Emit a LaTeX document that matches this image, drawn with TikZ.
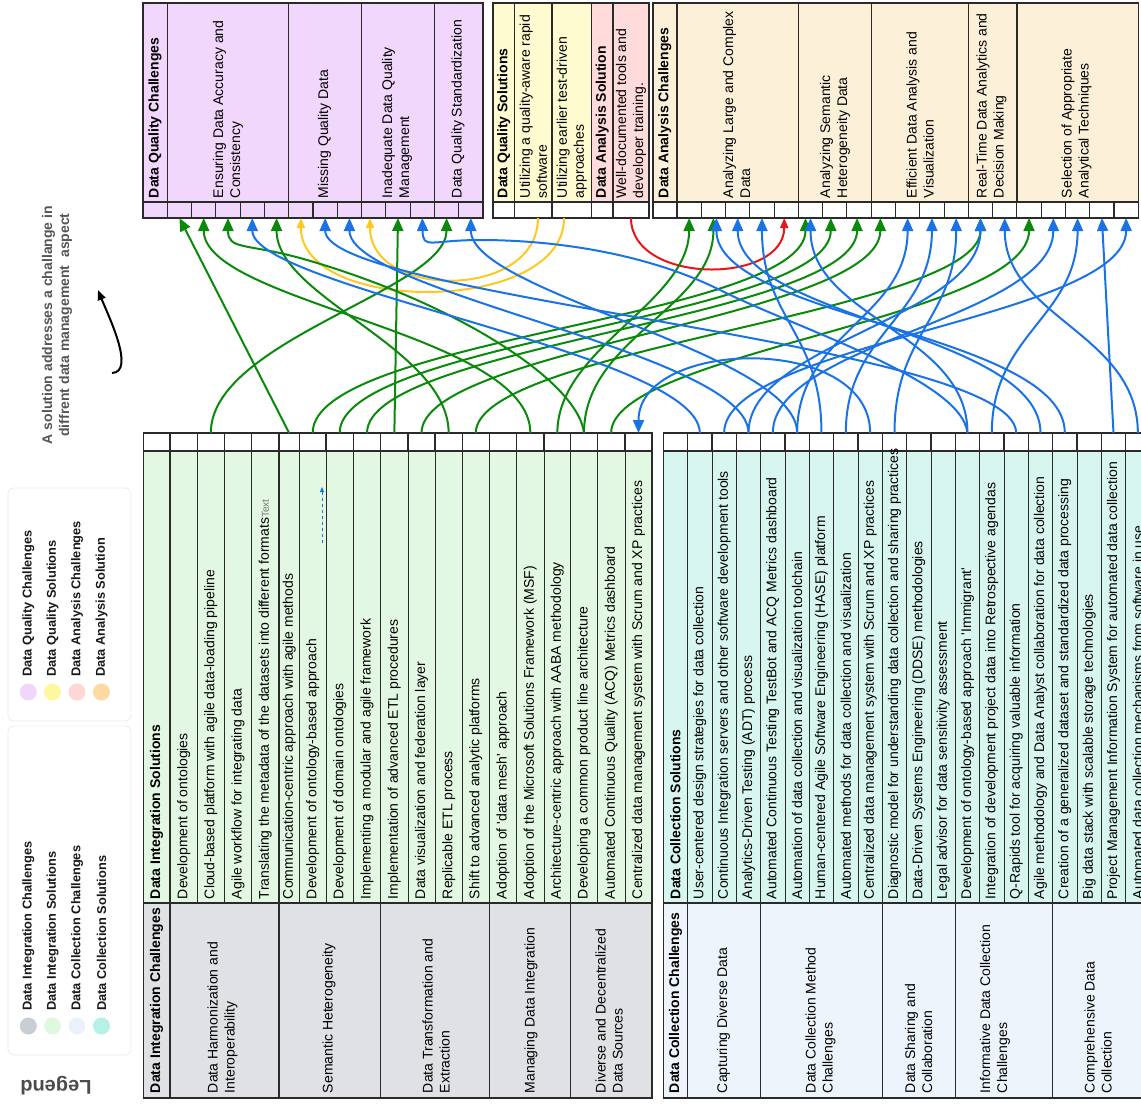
\documentclass[tikz,border=0pt]{standalone}
\usepackage{fontspec}
\setmainfont{Liberation Sans}
\usetikzlibrary{arrows.meta}
\definecolor{cDQ}{HTML}{F1D7FB}
\definecolor{cQS}{HTML}{FDFBCF}
\definecolor{cAS}{HTML}{FFDBDB}
\definecolor{cDA}{HTML}{FDF0D8}
\definecolor{cIS}{HTML}{E3F8E3}
\definecolor{cIC}{HTML}{DFE1E5}
\definecolor{cCC}{HTML}{EEF4FC}
\definecolor{cCS}{HTML}{D8F6F0}
\definecolor{cGreen}{HTML}{0A8A0A}
\definecolor{cBlue}{HTML}{1A73E6}
\definecolor{cYellow}{HTML}{FFC820}
\definecolor{cRed}{HTML}{E8151A}
\definecolor{cBorder}{HTML}{2A2A2A}
\definecolor{cNote}{HTML}{555555}
\definecolor{lgA}{HTML}{C9CDD4}
\definecolor{lgB}{HTML}{DFF8DF}
\definecolor{lgC}{HTML}{EAF1FC}
\definecolor{lgD}{HTML}{B5F1E6}
\definecolor{lgE}{HTML}{F1D6FC}
\definecolor{lgF}{HTML}{FFF6A0}
\definecolor{lgG}{HTML}{FFD7D7}
\definecolor{lgH}{HTML}{FFD9A3}
\newcommand\txtn{\fontsize{14}{17}\selectfont}
\newcommand\txtb{\fontsize{14}{17}\selectfont\bfseries}
\newcommand\txtl{\fontsize{12.8}{15}\selectfont\bfseries}
\begin{document}
\begin{tikzpicture}[x=1pt,y=-1pt,
  cellbox/.style={draw=cBorder, line width=1.1pt, inner sep=0pt, outer sep=0pt, minimum height=16pt},
  bcell/.style={cellbox, minimum height=18pt, fill=white},
  vt/.style={rotate=90, anchor=west, inner sep=0pt, outer sep=0pt, align=left, font=\txtn, text=black},
  vth/.style={vt, font=\txtb},
  lg/.style={rotate=90, anchor=west, inner sep=0pt, font=\txtl, text=black!90},
  conn/.style={line width=2pt, -{Triangle[length=13pt,width=11pt]}},
  sconn/.style={line width=2pt, -{Triangle[length=10pt,width=8pt]}},
  gc/.style={conn, draw=cGreen},
  bc/.style={conn, draw=cBlue},
  yc/.style={sconn, draw=cYellow},
  rc/.style={sconn, draw=cRed},
  thinline/.style={draw=cBorder, line width=0.8pt},
  grpsep/.style={draw=cBorder, line width=1.4pt},
  tblframe/.style={draw=cBorder, line width=1.6pt},
]
\useasboundingbox (0,0) rectangle (1141,1104);
\clip (0,0) rectangle (1141,1104);

% ================= TOP: Data Quality Challenges =================
\fill[cDQ] (143,3) rectangle (483,218);
\foreach \x in {167.3,288.7,361.6,434.4} \draw[grpsep] (\x,3) -- (\x,202);
\foreach \i in {0,...,13} \node[cellbox, fill=cDQ, minimum width=24.286pt] (dq\i) at ({155.14+\i*24.286},210) {};
\draw[tblframe] (143,3) rectangle (483,218);
\node[vth] (tdq0) at (155.1,198) {Data Quality Challenges};
\node[vt] (tdq1) at (228,198) {Ensuring Data Accuracy and\\Consistency};
\node[vt] (tdq2) at (324.5,198) {Missing Quality Data};
\node[vt] (tdq3) at (397,198) {Inadequate Data Quality\\Management};
\node[vt] (tdq4) at (458,198) {Data Quality Standardization};

% ================= TOP: Quality Solutions / Analysis Solution =================
\fill[cQS] (493,3) rectangle (591.3,202);
\fill[cAS] (591.3,3) rectangle (649,202);
\foreach \x in {514.7,552,591.3,613} \draw[grpsep] (\x,3) -- (\x,202);
\node[cellbox, fill=white, minimum width=21.7pt] (qs0) at (503.85,210) {};
\node[cellbox, fill=white, minimum width=37.3pt] (qs1) at (533.35,210) {};
\node[cellbox, fill=white, minimum width=39.3pt] (qs2) at (571.65,210) {};
\node[cellbox, fill=white, minimum width=21.7pt] (qs3) at (602.15,210) {};
\node[cellbox, fill=white, minimum width=36pt] (qs4) at (631,210) {};
\draw[tblframe] (493,3) rectangle (649,218);
\node[vth] (tqs0) at (503.85,198) {Data Quality Solutions};
\node[vt] (tqs1) at (533.35,198) {Utilizing a quality-aware rapid\\software};
\node[vt] (tqs2) at (571.65,198) {Utilizing earlier test-driven\\approaches};
\node[vth] (tqs3) at (602.15,198) {Data Analysis Solution};
\node[vt] (tqs4) at (631,198) {Well-documented tools and\\developer training.};

% ================= TOP: Data Analysis Challenges =================
\fill[cDA] (652.7,3) rectangle (1138.3,202);
\foreach \x in {677,798.4,871.2,968.3,1016.9} \draw[grpsep] (\x,3) -- (\x,202);
\foreach \i in {0,...,19} \node[cellbox, fill=white, minimum width=24.28pt] (da\i) at ({664.84+\i*24.28},210) {};
\draw[tblframe] (652.7,3) rectangle (1138.3,218);
\node[vth] (tda0) at (664.8,198) {Data Analysis Challenges};
\node[vt] (tda1) at (736.5,198) {Analyzing Large and Complex\\Data};
\node[vt] (tda2) at (835,198) {Analyzing Semantic\\Heterogeneity Data};
\node[vt] (tda3) at (920,198) {Efficient Data Analysis and\\Visualization};
\node[vt] (tda4) at (991.5,198) {Real-Time Data Analytics and\\Decision Making};
\node[vt] (tda5) at (1076.5,198) {Selection of Appropriate\\Analytical Techniques};

% ================= BOTTOM LEFT: Data Integration =================
\fill[cIS] (143.3,451) rectangle (652,903);
\fill[cIC] (143.3,903) rectangle (652,1098);
\foreach \x in {197.3,224.3,251.7,299.3,326,353.3,408,435,462.3,516.7,544,597.3,625} \draw[thinline] (\x,451) -- (\x,903);
\foreach \x in {170,279,380.7,489.3,570.7} \draw[grpsep] (\x,451) -- (\x,1098);
\draw[grpsep] (143.3,903) -- (652,903);
\foreach \i/\c/\w in {0/156.65/26.7, 1/183.65/27.3, 2/210.8/27, 3/238/27.4, 4/265.35/27.3, 5/289.15/20.3, 6/312.65/26.7, 7/339.65/27.3, 8/367/27.4, 9/394.35/27.3, 10/421.5/27, 11/448.65/27.3, 12/475.8/27, 13/503/27.4, 14/530.35/27.3, 15/557.35/26.7, 16/584/26.6, 17/611.15/27.7, 18/638.5/27}
  \node[bcell, minimum width=\w pt] (li\i) at (\c,442) {};
\draw[tblframe] (143.3,433) rectangle (652,1098);
\path (li0.center) ++(0,457) node[vth] (tli0) {Data Integration Solutions};
\foreach \i/\t in {1/{Development of ontologies},
  2/{Cloud-based platform with agile data-loading pipeline},
  3/{Agile workflow for integrating data},
  4/{Translating the metadata of the datasets into different formats{\fontsize{10}{10}\selectfont\color{black!55}Text}},
  5/{Communication-centric approach with agile methods},
  6/{Development of ontology-based approach},
  7/{Development of domain ontologies},
  8/{Implementing a modular and agile framework},
  9/{Implementation of advanced ETL procedures},
  10/{Data visualization and federation layer},
  11/{Replicable ETL process},
  12/{Shift to advanced analytic platforms},
  13/{Adoption of \textquotesingle data mesh\textquotesingle\ approach},
  14/{Adoption of the Microsoft Solutions Framework (MSF)},
  15/{Architecture-centric approach with AABA methodology},
  16/{Developing a common product line architecture},
  17/{Automated Continuous Quality (ACQ) Metrics dashboard},
  18/{Centralized data management system with Scrum and XP practices}}
  \path (li\i.center) ++(0,457) node[vt] (tli\i) {\t};
\node[vth] (cli0) at (156.65,1093) {Data Integration Challenges};
\node[vt] (cli1) at (222.5,1093) {Data Harmonization and\\Interoperability};
\node[vt] (cli2) at (329,1093) {Semantic Heterogeneity};
\node[vt] (cli3) at (436,1093) {Data Transformation and\\Extraction};
\node[vt] (cli4) at (531,1093) {Managing Data Integration};
\node[vt] (cli5) at (609,1093) {Diverse and Decentralized\\Data Sources};
% small dashed arrow artefact
\coordinate (dashA) at (322,543);
\coordinate (dashB) at (322,487);
\draw[cBlue, line width=0.8pt, dashed, -{Triangle[length=5pt,width=4pt]}] (dashA) -- (dashB);

% ================= BOTTOM RIGHT: Data Collection =================
\fill[cCS] (663.3,451) rectangle (1160,903);
\fill[cCC] (663.3,903) rectangle (1160,1098);
\foreach \k in {2,3,5,6,7,8,10,11,13,14,15,17,18,19} \draw[thinline] ({663.3+\k*24.335},451) -- ({663.3+\k*24.335},903);
\foreach \k in {1,4,9,12,16} \draw[grpsep] ({663.3+\k*24.335},451) -- ({663.3+\k*24.335},1098);
\draw[grpsep] (663.3,903) -- (1160,903);
\foreach \i in {0,...,19} \node[bcell, minimum width=24.335pt] (dc\i) at ({675.47+\i*24.335},442) {};
\draw[tblframe] (663.3,433) rectangle (1160,1098);
\path (dc0.center) ++(0,457) node[vth] (tdc0) {Data Collection Solutions};
\foreach \i/\t in {1/{User-centered design strategies for data collection},
  2/{Continuous Integration servers and other software development tools},
  3/{Analytics-Driven Testing (ADT) process},
  4/{Automated Continuous Testing TestBot and ACQ Metrics dashboard},
  5/{Automation of data collection and visualization toolchain},
  6/{Human-centered Agile Software Engineering (HASE) platform},
  7/{Automated methods for data collection and visualization},
  8/{Centralized data management system with Scrum and XP practices},
  9/{Diagnostic model for understanding data collection and sharing practices},
  10/{Data-Driven Systems Engineering (DDSE) methodologies},
  11/{Legal advisor for data sensitivity assessment},
  12/{Development of ontology-based approach \textquotesingle Immigrant\textquotesingle},
  13/{Integration of development project data into Retrospective agendas},
  14/{Q-Rapids tool for acquiring valuable information},
  15/{Agile methodology and Data Analyst collaboration for data collection},
  16/{Creation of a generalized dataset and standardized data processing},
  17/{Big data stack with scalable storage technologies},
  18/{Project Management Information System for automated data collection},
  19/{Automated data collection mechanisms from software in use}}
  \path (dc\i.center) ++(0,457) node[vt] (tdc\i) {\t};
\node[vth] (cdc0) at (675.5,1093) {Data Collection Challenges};
\node[vt] (cdc1) at (723.5,1093) {Capturing Diverse Data};
\node[vt] (cdc2) at (820.5,1093) {Data Collection Method\\Challenges};
\node[vt] (cdc3) at (918.5,1093) {Data Sharing and\\Collaboration};
\node[vt] (cdc4) at (995,1093) {Informative Data Collection\\Challenges};
\node[vt] (cdc5) at (1098,1093) {Comprehensive Data\\Collection};

% ================= CONNECTORS =================
% yellow / red (solutions to challenges in the top tables)
\draw[yc] ([xshift=4.6pt]qs1.south) .. controls +(0,82) and +(0,82) .. ([xshift=-3.7pt]dq9.south);
\draw[yc] ([xshift=-7.6pt]qs2.south) .. controls +(0,97) and +(0,97) .. (dq6.south);
\draw[rc] (qs4.south) .. controls +(0,67) and +(0,67) .. ([xshift=-2pt]da5.south);

% green (data integration solutions)
\draw[gc] (li2.north) .. controls +(0,-93) and +(0,72) .. (dq12.south);
\draw[gc] (li5.north) -- (dq1.south);
\draw[gc] (li9.north) -- (dq10.south);
\draw[gc] (li11.north) .. controls +(0,-85) and +(0,80) .. (dq5.south);
\draw[gc] (li14.north) .. controls +(0,-100) and +(0,85) .. (dq2.south);
\draw[gc] (li16.north) .. controls (578,380) and (450,300) .. (300,258) .. controls (245,243) and (228,250) .. (dq3.south);
\draw[gc] (li15.north) .. controls +(0,-85) and +(0,85) .. (da1.south);
\draw[gc] (li16.north) .. controls +(0,-95) and +(0,90) .. (da2.south);
\draw[gc] (li6.north) .. controls +(0,-95) and +(0,100) .. ([xshift=-5pt]da6.south);
\draw[gc] (li7.north) .. controls +(0,-92) and +(0,100) .. ([xshift=-4pt]da7.south);
\draw[gc] (li8.north) .. controls +(0,-88) and +(0,100) .. ([xshift=-2pt]da8.south);
\draw[gc] (li10.north) .. controls +(0,-85) and +(0,100) .. ([xshift=-3pt]da9.south);
\draw[gc] (li12.north) .. controls +(0,-85) and +(0,95) .. (da13.south);
\draw[gc] (li17.north) .. controls +(0,-80) and +(0,100) .. (da15.south);

% blue (data collection solutions)
\draw[bc] (dc1.north) .. controls +(0,-80) and +(0,70) .. (dq4.south);
\draw[bc] (dc2.north) .. controls +(0,-90) and +(0,100) .. (da19.south);
\draw[bc] (dc3.north) .. controls +(0,-80) and +(0,75) .. (dq8.south);
\draw[bc] (dc3.north) .. controls +(0,-90) and +(0,100) .. (da13.south);
\draw[bc] (dc4.north) .. controls +(0,-90) and +(0,100) .. (da16.south);
\draw[bc] (dc5.north) .. controls +(0,-80) and +(0,75) .. (dq13.south);
\draw[bc] (dc5.north) .. controls +(0,-100) and +(0,100) .. (da10.south);
\draw[bc] (dc6.north) .. controls +(0,-100) and +(0,100) .. (da4.south);
\draw[bc] (dc7.north) .. controls +(0,-100) and +(0,100) .. (da11.south);
\draw[bc] (dc8.north) .. controls +(0,-100) and +(0,-95) .. (li18.north);
\draw[bc] (dc9.north) .. controls +(0,-100) and +(0,100) .. (da12.south);
\draw[bc] (dc12.north) .. controls (962,380) and (800,330) .. (720,290) .. controls (650,255) and (560,240) .. (480,240) .. controls (430,240) and (423,250) .. (dq11.south);
\draw[bc] (dc12.north) .. controls +(0,-100) and +(0,100) .. (da6.south);
\draw[bc] (dc13.north) .. controls +(0,-100) and +(0,100) .. (da17.south);
\draw[bc] (dc14.north) .. controls +(0,-90) and +(0,80) .. (dq7.south);
\draw[bc] (dc15.north) .. controls +(0,-100) and +(0,100) .. (da3.south);
\draw[bc] (dc16.north) .. controls +(0,-100) and +(0,100) .. ([xshift=3pt]da2.south);
\draw[bc] (dc18.north) -- (da18.south);
\draw[bc] (dc19.north) .. controls +(0,-100) and +(0,100) .. (da14.south);

% ================= NOTE =================
\node[rotate=90, align=center, font=\txtb, text=cNote, inner sep=0pt] (note) at (57,325) {A solution addresses a challange in\\diffrent data management\ \ aspect};
\coordinate (noteA) at (112,373);
\coordinate (noteB) at (98,290);
\draw[line width=2pt, -{Triangle[length=10pt,width=8pt]}] (noteA) .. controls (136,372) and (108,315) .. (noteB);

% ================= LEGEND =================
\draw[draw=black!8, line width=0.8pt, rounded corners=6pt] (8,488) rectangle (131,721);
\draw[draw=black!8, line width=0.8pt, rounded corners=6pt] (8,726) rectangle (131,1055);
\foreach \n/\x/\c/\t in {1/28.3/lgE/{Data Quality Challenges}, 2/52.5/lgF/{Data Quality Solutions}, 3/77/lgG/{Data Analysis Challenges}, 4/101.5/lgH/{Data Analysis Solution}} {
  \node[circle, fill=\c, minimum size=17pt, inner sep=0pt] (lgu\n) at (\x,692) {};
  \node[lg] (lgut\n) at (\x,677) {\t};
}
\foreach \n/\x/\c/\t in {1/28.3/lgA/{Data Integration Challenges}, 2/52.5/lgB/{Data Integration Solutions}, 3/77/lgC/{Data Collection Challenges}, 4/101.5/lgD/{Data Collection Solutions}} {
  \node[circle, fill=\c, minimum size=17pt, inner sep=0pt] (lgl\n) at (\x,1026) {};
  \node[lg] (lglt\n) at (\x,1011) {\t};
}
\node[rotate=180, font=\fontsize{20}{22}\selectfont\bfseries, text=black!70, inner sep=0pt] (legendtitle) at (56,1086) {Legend};
\end{tikzpicture}
\end{document}
